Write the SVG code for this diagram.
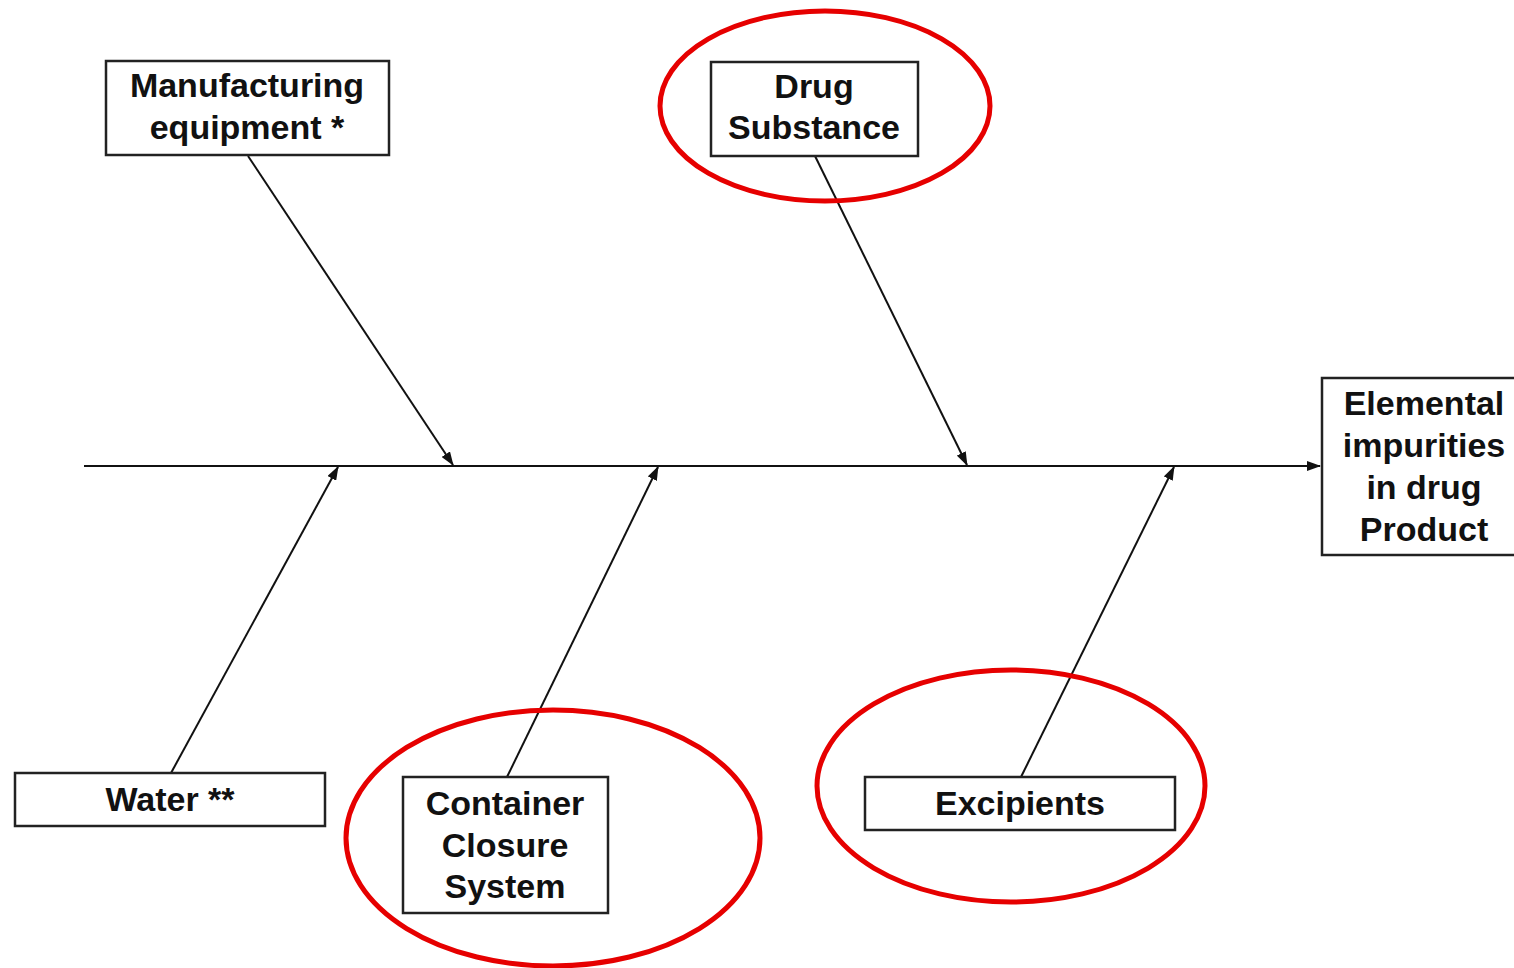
<svg xmlns="http://www.w3.org/2000/svg" width="1514" height="968" viewBox="0 0 1514 968">
  <style>
    .box { fill: #ffffff; stroke: #222222; stroke-width: 2.5; }
    .lbl { font-family: "Liberation Sans", Arial, sans-serif; font-weight: bold; font-size: 34px; fill: #111111; text-anchor: middle; }
    .bone { stroke: #111111; stroke-width: 2; fill: none; marker-end: url(#head); }
    .ring { fill: none; stroke: #e60000; stroke-width: 5; }
  </style>
  <defs>
    <marker id="head" viewBox="0 0 14 10" refX="13" refY="5" markerWidth="14" markerHeight="10" markerUnits="userSpaceOnUse" orient="auto">
      <path d="M0,0 L14,5 L0,10 Z" fill="#111111"/>
    </marker>
  </defs>
  <rect width="1514" height="968" fill="#ffffff"/>

  <g id="connectors">
    <line class="bone" x1="84" y1="466" x2="1320" y2="466"/>
    <line class="bone" x1="248" y1="156" x2="453" y2="465"/>
    <line class="bone" x1="815" y1="156" x2="967" y2="465"/>
    <line class="bone" x1="171" y1="773" x2="338" y2="467"/>
    <line class="bone" x1="507" y1="777" x2="658" y2="467"/>
    <line class="bone" x1="1021" y1="777" x2="1174" y2="467"/>
  </g>

  <g id="manufacturing-equipment">
    <rect class="box" x="106" y="61" width="283" height="94"/>
    <text class="lbl" x="247" y="97">Manufacturing</text>
    <text class="lbl" x="247" y="139">equipment *</text>
  </g>

  <g id="drug-substance">
    <rect class="box" x="711" y="62" width="207" height="94"/>
    <text class="lbl" x="814" y="98">Drug</text>
    <text class="lbl" x="814" y="139">Substance</text>
  </g>

  <g id="elemental-impurities">
    <rect class="box" x="1322" y="378" width="200" height="177"/>
    <text class="lbl" x="1424" y="415">Elemental</text>
    <text class="lbl" x="1424" y="457">impurities</text>
    <text class="lbl" x="1424" y="499">in drug</text>
    <text class="lbl" x="1424" y="541">Product</text>
  </g>

  <g id="water">
    <rect class="box" x="15" y="773" width="310" height="53"/>
    <text class="lbl" x="170" y="811">Water **</text>
  </g>

  <g id="container-closure-system">
    <rect class="box" x="403" y="777" width="205" height="136"/>
    <text class="lbl" x="505" y="815">Container</text>
    <text class="lbl" x="505" y="857">Closure</text>
    <text class="lbl" x="505" y="898">System</text>
  </g>

  <g id="excipients">
    <rect class="box" x="865" y="777" width="310" height="53"/>
    <text class="lbl" x="1020" y="815">Excipients</text>
  </g>

  <g id="highlights">
    <ellipse class="ring" cx="825" cy="106" rx="165" ry="95"/>
    <ellipse class="ring" cx="553" cy="838" rx="207" ry="128"/>
    <ellipse class="ring" cx="1011" cy="786" rx="194" ry="116"/>
  </g>
</svg>
